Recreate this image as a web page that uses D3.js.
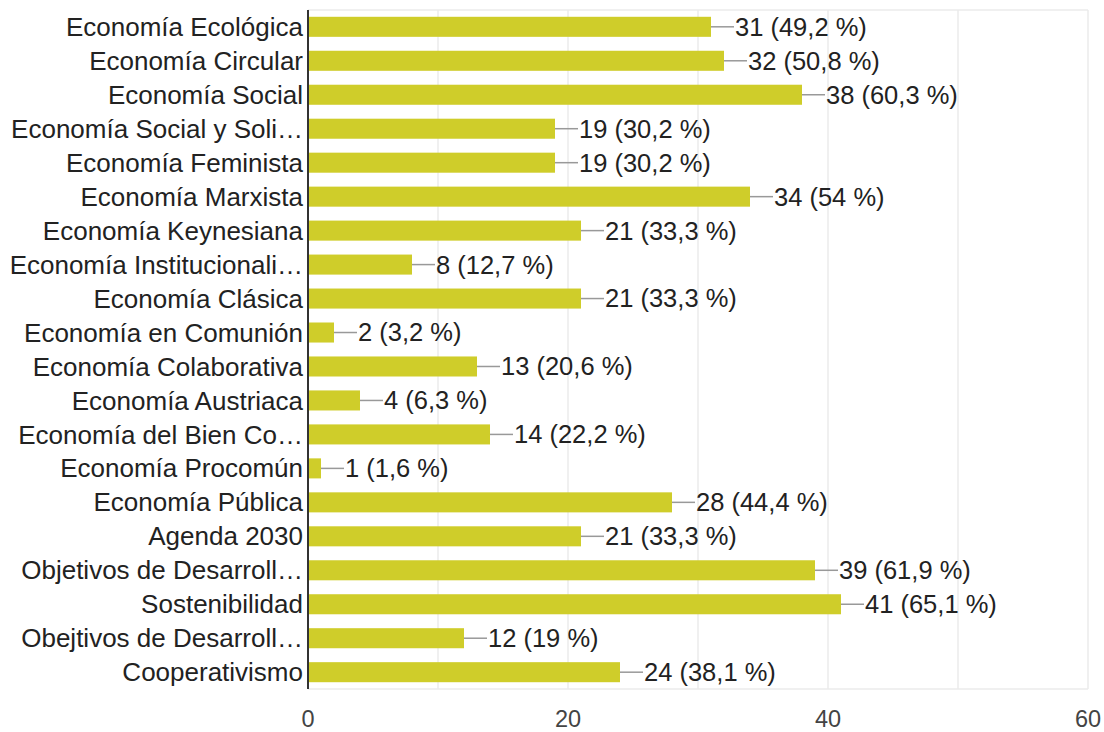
<!DOCTYPE html>
<html><head><meta charset="utf-8">
<script src="https://cdn.jsdelivr.net/npm/d3@7"></script>
<style>body{margin:0;background:#fff;} svg{display:block;}</style>
</head><body>
<svg id="c" width="1104" height="732"></svg>
<script>
const categories = ["Economía Ecológica","Economía Circular","Economía Social","Economía Social y Soli…","Economía Feminista","Economía Marxista","Economía Keynesiana","Economía Institucionali…","Economía Clásica","Economía en Comunión","Economía Colaborativa","Economía Austriaca","Economía del Bien Co…","Economía Procomún","Economía Pública","Agenda 2030","Objetivos de Desarroll…","Sostenibilidad","Obejtivos de Desarroll…","Cooperativismo"];
const counts = [31,32,38,19,19,34,21,8,21,2,13,4,14,1,28,21,39,41,12,24];
const percents = ["49,2","50,8","60,3","30,2","30,2","54","33,3","12,7","33,3","3,2","20,6","6,3","22,2","1,6","44,4","33,3","61,9","65,1","19","38,1"];
const tickValues = [0,20,40,60];
const gridValues = [0,10,20,30,40,50,60];

(function(){
const svg = d3.select("#c");
const pLeft = 308, pRight = 1088, pTop = 10, pBottom = 689;
const x = d3.scaleLinear().domain([0,60]).range([pLeft,pRight]);
const y = d3.scaleBand().domain(categories).range([pTop,pBottom]).paddingInner(0.41).paddingOuter(0.2);
const font = "'Liberation Sans', Arial, sans-serif";

svg.append("g").selectAll("line").data(gridValues).join("line")
  .attr("x1", d=>x(d)).attr("x2", d=>x(d)).attr("y1", pTop).attr("y2", pBottom)
  .attr("stroke", "#ebebeb").attr("stroke-width", 1.5);
svg.append("line").attr("x1", pLeft).attr("x2", pRight).attr("y1", pTop).attr("y2", pTop).attr("stroke","#ebebeb").attr("stroke-width",1.5);
svg.append("line").attr("x1", pLeft).attr("x2", pRight).attr("y1", pBottom).attr("y2", pBottom).attr("stroke","#ebebeb").attr("stroke-width",1.5);

const data = categories.map((c,i)=>({c, v:counts[i], p:percents[i]}));
svg.append("g").selectAll("rect").data(data).join("rect")
  .attr("x", x(0)).attr("y", d=>y(d.c)).attr("width", d=>x(d.v)-x(0)).attr("height", y.bandwidth())
  .attr("fill", "#cfcd2a");

svg.append("g").selectAll("line").data(data).join("line")
  .attr("x1", d=>x(d.v)).attr("x2", d=>x(d.v)+23)
  .attr("y1", d=>y(d.c)+y.bandwidth()/2).attr("y2", d=>y(d.c)+y.bandwidth()/2)
  .attr("stroke", "#999").attr("stroke-width", 1.5);

svg.append("g").selectAll("text").data(data).join("text")
  .attr("x", d=>x(d.v)+24).attr("y", d=>y(d.c)+y.bandwidth()/2).attr("dy","0.35em")
  .attr("font-family", font).attr("font-size", 25.5).attr("fill", "#222")
  .text(d=>`${d.v} (${d.p} %)`);

svg.append("g").selectAll("text").data(categories).join("text")
  .attr("x", pLeft-5).attr("y", d=>y(d)+y.bandwidth()/2).attr("dy","0.35em")
  .attr("text-anchor","end")
  .attr("font-family", font).attr("font-size", 26).attr("fill", "#222")
  .text(d=>d);

svg.append("line").attr("x1", pLeft).attr("x2", pLeft).attr("y1", pTop).attr("y2", pBottom)
  .attr("stroke", "#333").attr("stroke-width", 2);

svg.append("g").selectAll("text").data(tickValues).join("text")
  .attr("x", d=>x(d)).attr("y", 727).attr("text-anchor","middle")
  .attr("font-family", font).attr("font-size", 23.5).attr("fill", "#444")
  .text(d=>d);
})();
</script>
</body></html>
